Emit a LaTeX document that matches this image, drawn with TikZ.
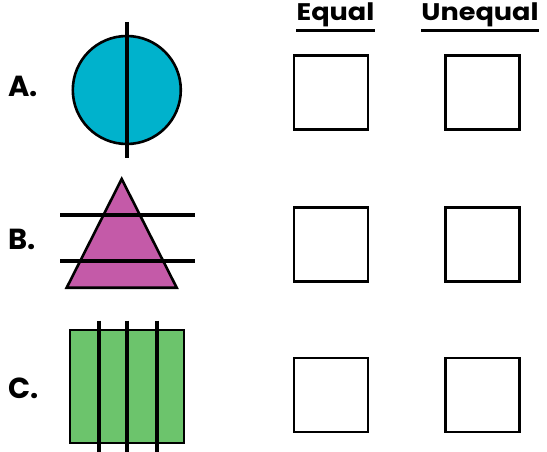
\documentclass[tikz,border=0pt]{standalone}
\usepackage{fontspec}
\setmainfont{Poppins}
\definecolor{cyanfill}{HTML}{00B2CC}
\definecolor{magfill}{HTML}{C45AA8}
\definecolor{greenfill}{HTML}{6CC46C}
\newcommand{\hdrtext}[1]{\scalebox{1.13}[1]{#1}}
\begin{document}
\begin{tikzpicture}[x=1pt,y=-1pt,
  answerbox/.style={draw,line width=2.8pt,minimum width=74pt,minimum height=74pt,inner sep=0pt,anchor=north west},
  rowlabel/.style={font=\bfseries\fontsize{29}{30}\selectfont,anchor=base west,inner sep=0pt},
  header/.style={font=\bfseries\fontsize{24}{25}\selectfont,anchor=base,inner sep=0pt},
  outline/.style={line width=2.6pt},
  cutline/.style={line width=4pt}]
\useasboundingbox (0,0) rectangle (547,452);
% headers
\node[header] (heq) at (335.5,21) {\hdrtext{Equal}};
\node[header] (hun) at (480,21) {\hdrtext{Unequal}};
\draw[line width=2.6pt] (heq.base west |- 0,30.5) -- (heq.base east |- 0,30.5);
\draw[line width=2.6pt] (hun.base west |- 0,30.5) -- (hun.base east |- 0,30.5);
% row labels
\node[rowlabel] (la) at (8,96) {A.};
\node[rowlabel] (lb) at (8,249) {B.};
\node[rowlabel] (lc) at (8,398) {C.};
% boxes
\node[answerbox] (ea) at (292.5,54.5) {};
\node[answerbox] (ua) at (444,54.5) {};
\node[answerbox] (eb) at (292.5,206) {};
\node[answerbox] (ub) at (444,206) {};
\node[answerbox] (ec) at (292.5,356.5) {};
\node[answerbox] (uc) at (444,356.5) {};
% circle
\filldraw[fill=cyanfill,outline] (126.8,90) circle (54);
\draw[cutline] (127.3,22) -- (127.3,158);
% triangle
\filldraw[fill=magfill,outline,line join=miter] (121.7,179) -- (176.7,287.7) -- (66.7,287.7) -- cycle;
\draw[cutline] (60,215) -- (195,215);
\draw[cutline] (60,261) -- (195,261);
% rectangle
\filldraw[fill=greenfill,outline] (70,330) rectangle (184,443);
\draw[cutline] (99,320.5) -- (99,452);
\draw[cutline] (127.3,320.5) -- (127.3,452);
\draw[cutline] (156.7,320.5) -- (156.7,452);
\end{tikzpicture}
\end{document}
